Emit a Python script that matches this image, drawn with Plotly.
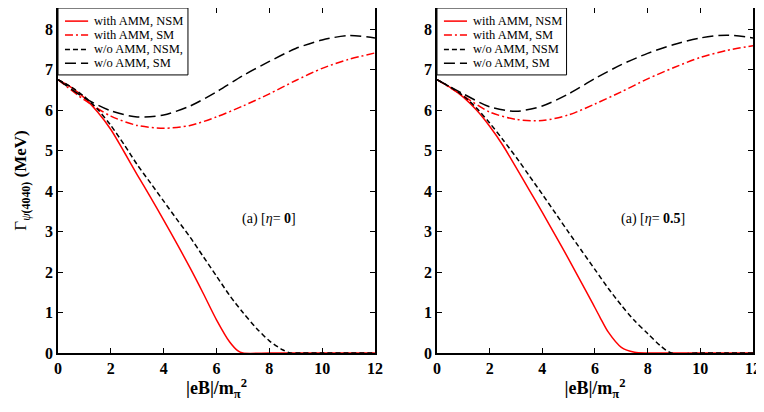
import plotly.graph_objects as go

# ---------------- data ----------------
# Panel (a) eta = 0
x_a_amm_nsm = [0, 0.5, 1, 1.5, 2, 2.5, 3, 3.5, 4, 4.5, 5, 5.5, 6, 6.5, 6.8, 7.0, 8, 9, 10, 11, 12]
y_a_amm_nsm = [6.75, 6.56, 6.3, 5.95, 5.52, 4.97, 4.4, 3.85, 3.28, 2.7, 2.1, 1.47, 0.82, 0.27, 0.06, 0.0, 0, 0, 0, 0, 0]

x_a_amm_sm = [0, 1, 2, 3, 4, 5, 6, 7, 8, 9, 10, 11, 12]
y_a_amm_sm = [6.75, 6.25, 5.85, 5.62, 5.55, 5.62, 5.83, 6.1, 6.4, 6.73, 7.03, 7.25, 7.41]

x_a_noamm_nsm = [0, 0.5, 1, 1.5, 2, 2.5, 3, 3.5, 4, 4.5, 5, 5.5, 6, 6.5, 7, 7.5, 8, 8.5, 8.8, 9, 10, 11, 12]
y_a_noamm_nsm = [6.75, 6.57, 6.33, 6.02, 5.62, 5.15, 4.65, 4.2, 3.75, 3.3, 2.86, 2.38, 1.9, 1.42, 1.0, 0.62, 0.3, 0.08, 0.0, 0, 0, 0, 0]

x_a_noamm_sm = [0, 1, 2, 3, 4, 5, 6, 7, 8, 9, 10, 11, 12]
y_a_noamm_sm = [6.75, 6.3, 5.98, 5.83, 5.88, 6.1, 6.45, 6.85, 7.2, 7.52, 7.73, 7.84, 7.78]

# Panel (b) eta = 0.5
x_b_amm_nsm = [0, 0.5, 1, 1.5, 2, 2.5, 2.85, 3.5, 4, 4.5, 5, 5.5, 5.85, 6.2, 6.5, 7, 7.5, 8, 9, 10, 11, 12]
y_b_amm_nsm = [6.75, 6.56, 6.32, 6.0, 5.6, 5.13, 4.75, 4.03, 3.47, 2.9, 2.32, 1.72, 1.3, 0.87, 0.52, 0.14, 0.02, 0, 0, 0, 0, 0]

x_b_amm_sm = [0, 1, 2, 3, 4, 5, 6, 7, 8, 9, 10, 11, 12]
y_b_amm_sm = [6.75, 6.35, 5.95, 5.77, 5.74, 5.88, 6.15, 6.45, 6.77, 7.05, 7.3, 7.47, 7.59]

x_b_noamm_nsm = [0, 0.5, 1, 1.5, 2, 2.5, 3.1, 3.5, 4, 4.5, 5, 5.5, 6, 6.5, 7, 7.5, 8, 8.5, 8.9, 10, 11, 12]
y_b_noamm_nsm = [6.75, 6.57, 6.35, 6.05, 5.68, 5.27, 4.75, 4.38, 3.92, 3.45, 2.98, 2.52, 2.06, 1.6, 1.18, 0.8, 0.48, 0.17, 0.0, 0, 0, 0]

x_b_noamm_sm = [0, 1, 2, 3, 4, 5, 6, 7, 8, 9, 10, 11, 12]
y_b_noamm_sm = [6.75, 6.4, 6.08, 5.97, 6.1, 6.4, 6.78, 7.12, 7.4, 7.62, 7.78, 7.85, 7.78]

names_a = ["with AMM, NSM", "with AMM, SM", "w/o AMM, NSM,", "w/o AMM, SM"]
names_b = ["with AMM, NSM", "with AMM, SM", "w/o AMM, NSM", "w/o AMM, SM"]

x_ticks = [0, 2, 4, 6, 8, 10, 12]
y_ticks = [0, 1, 2, 3, 4, 5, 6, 7, 8]

# ---------------- styles ----------------
RED = "#ff0000"
BLK = "#000000"
styles = [
    dict(color=RED, dash="solid"),
    dict(color=RED, dash="8px,3px,2px,3px"),
    dict(color=BLK, dash="5px,3px"),
    dict(color=BLK, dash="11px,5px"),
]
FONT = "Liberation Serif, Times New Roman, serif"

fig = go.Figure()

panels = [
    ("x", "y", names_a,
     [(x_a_amm_nsm, y_a_amm_nsm), (x_a_amm_sm, y_a_amm_sm),
      (x_a_noamm_nsm, y_a_noamm_nsm), (x_a_noamm_sm, y_a_noamm_sm)]),
    ("x2", "y2", names_b,
     [(x_b_amm_nsm, y_b_amm_nsm), (x_b_amm_sm, y_b_amm_sm),
      (x_b_noamm_nsm, y_b_noamm_nsm), (x_b_noamm_sm, y_b_noamm_sm)]),
]

shapes = []
annotations = []
# compact legend box (position in axis-domain fractions)
LEG_X1, LEG_Y0 = 0.41, 0.806
ROW_Y = [0.962, 0.922, 0.880, 0.840]
SAMPLE_X = (0.022, 0.095)
TEXT_X = 0.108

for xa, ya, names, series in panels:
    for (xs, ys), nm, st in zip(series, names, styles):
        fig.add_trace(go.Scatter(
            x=xs, y=ys, mode="lines", name=nm, xaxis=xa, yaxis=ya,
            showlegend=False,
            line=dict(color=st["color"], dash=st["dash"], width=1.5,
                      shape="spline", smoothing=0.8),
        ))
    xr, yr = f"{xa} domain", f"{ya} domain"
    shapes.append(dict(type="rect", xref=xr, yref=yr, x0=0, x1=LEG_X1,
                       y0=LEG_Y0, y1=1, fillcolor="white",
                       line=dict(color="black", width=1), layer="above"))
    for nm, st, ry in zip(names, styles, ROW_Y):
        shapes.append(dict(type="line", xref=xr, yref=yr,
                           x0=SAMPLE_X[0], x1=SAMPLE_X[1], y0=ry, y1=ry,
                           line=dict(color=st["color"], dash=st["dash"], width=1.5),
                           layer="above"))
        annotations.append(dict(xref=xr, yref=yr, x=TEXT_X, y=ry,
                                xanchor="left", yanchor="middle", showarrow=False,
                                text=nm, font=dict(family=FONT, size=12.5, color="black")))

annotations += [
    dict(x=8.0, y=3.3, xref="x", yref="y", showarrow=False,
         text="(a) [<i>η</i>= <b>0</b>]",
         font=dict(family=FONT, size=14, color="black")),
    dict(x=8.2, y=3.3, xref="x2", yref="y2", showarrow=False,
         text="(a) [<i>η</i>= <b>0.5</b>]",
         font=dict(family=FONT, size=14, color="black")),
]

axis_common = dict(
    showline=True, linecolor="black", linewidth=1.8, mirror="ticks",
    ticks="inside", ticklen=5, tickwidth=1.2, tickcolor="black",
    showgrid=False, zeroline=False, automargin=False,
    ticklabeloverflow="allow",
    tickfont=dict(family=FONT, size=16, color="black"),
)

DOM1 = [0, 0.4561]
DOM2 = [0.5453, 1]

fig.update_layout(
    width=756, height=393,
    margin=dict(l=50, r=11, t=0, b=48),
    plot_bgcolor="white", paper_bgcolor="white",
    font=dict(family=FONT, color="black"),
    showlegend=False,
    xaxis=dict(domain=DOM1, range=[0, 12], tickvals=x_ticks,
               ticktext=[f"<b>{t}</b>" for t in x_ticks],
               title=dict(text="<b>|eB|/m<sub>π</sub><sup>2</sup></b>",
                          font=dict(family=FONT, size=18), standoff=8),
               **axis_common),
    yaxis=dict(domain=[0, 1], range=[0, 8.52], tickvals=y_ticks,
               ticktext=[f"<b>{t}</b>" for t in y_ticks],
               title=dict(text="Γ<sub><i>ψ</i><b>(4040)</b></sub> <b>(MeV)</b>",
                          font=dict(family=FONT, size=17), standoff=14),
               **axis_common),
    xaxis2=dict(domain=DOM2, range=[0, 12], tickvals=x_ticks,
                ticktext=[f"<b>{t}</b>" for t in x_ticks], anchor="y2",
                title=dict(text="<b>|eB|/m<sub>π</sub><sup>2</sup></b>",
                           font=dict(family=FONT, size=18), standoff=8),
                **axis_common),
    yaxis2=dict(domain=[0, 1], range=[0, 8.52], tickvals=y_ticks,
                ticktext=[f"<b>{t}</b>" for t in y_ticks], anchor="x2",
                **axis_common),
    shapes=shapes,
    annotations=annotations,
)

fig.write_html("out.html")
